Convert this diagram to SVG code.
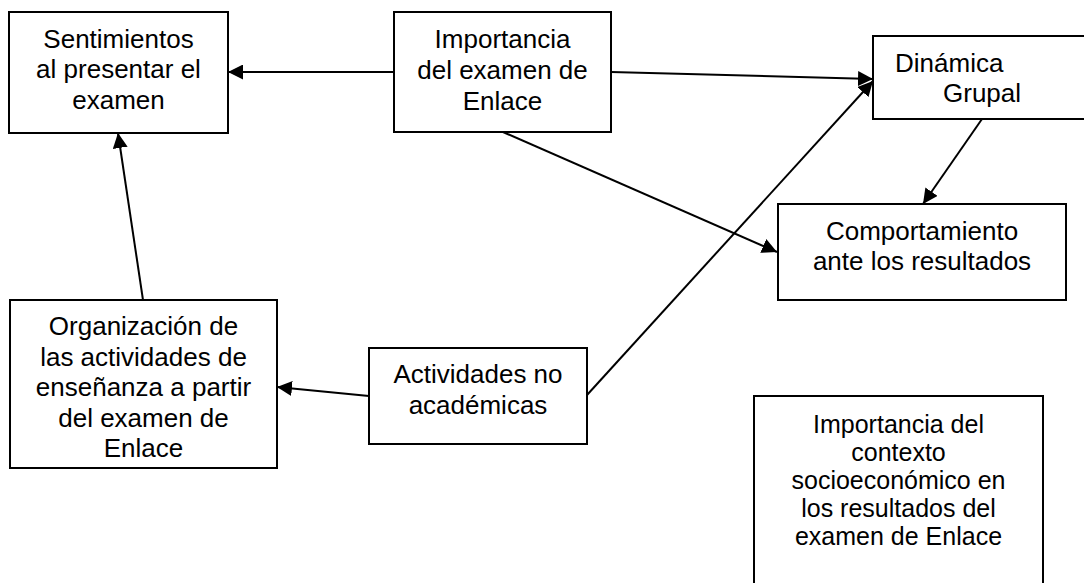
<svg xmlns="http://www.w3.org/2000/svg" width="1084" height="583" viewBox="0 0 1084 583">
<style>
.box{fill:#fff;stroke:#000;stroke-width:2}
.t{font-family:"Liberation Sans",Arial,sans-serif;font-size:26px;fill:#000;text-anchor:middle}
.s{text-anchor:start}
.t7{font-family:"Liberation Sans",Arial,sans-serif;font-size:25px;fill:#000;text-anchor:middle}
.l{fill:none;stroke:#000;stroke-width:2;marker-end:url(#ah)}
</style>
<defs>
<marker id="ah" markerUnits="userSpaceOnUse" markerWidth="16" markerHeight="15" refX="15" refY="7.5" orient="auto">
<path d="M0,0 L15,7.5 L0,15 z" fill="#000"/>
</marker>
</defs>
<rect width="1084" height="583" fill="#fff"/>
<g id="connectors">
<line class="l" x1="394" y1="72" x2="228" y2="72"/>
<line class="l" x1="611" y1="72" x2="873" y2="79"/>
<line class="l" x1="503" y1="132" x2="777" y2="252"/>
<line class="l" x1="982" y1="119" x2="923" y2="204"/>
<line class="l" x1="587" y1="395" x2="873" y2="81"/>
<line class="l" x1="143" y1="300" x2="118" y2="133"/>
<line class="l" x1="369" y1="396" x2="277" y2="387"/>
</g>
<g id="sentimientos">
<rect class="box" x="9" y="12" width="219" height="121"/>
<text class="t" x="118.5" y="48">Sentimientos</text>
<text class="t" x="118.5" y="78">al presentar el</text>
<text class="t" x="118.5" y="109">examen</text>
</g>
<g id="importancia">
<rect class="box" x="394" y="12" width="217" height="120"/>
<text class="t" x="502.5" y="48">Importancia</text>
<text class="t" x="502.5" y="79">del examen de</text>
<text class="t" x="502.5" y="110">Enlace</text>
</g>
<g id="dinamica">
<rect class="box" x="873" y="36" width="220" height="83"/>
<text class="t s" x="895" y="72">Dinámica</text>
<text class="t s" x="943" y="102">Grupal</text>
</g>
<g id="comportamiento">
<rect class="box" x="778" y="204" width="288" height="96"/>
<text class="t" x="922" y="240">Comportamiento</text>
<text class="t" x="922" y="270">ante los resultados</text>
</g>
<g id="organizacion">
<rect class="box" x="10" y="300" width="267" height="168"/>
<text class="t" x="143.5" y="335">Organización de</text>
<text class="t" x="143.5" y="366">las actividades de</text>
<text class="t" x="143.5" y="396">enseñanza a partir</text>
<text class="t" x="143.5" y="427">del examen de</text>
<text class="t" x="143.5" y="457">Enlace</text>
</g>
<g id="actividades">
<rect class="box" x="369" y="348" width="218" height="96"/>
<text class="t" x="478" y="383">Actividades no</text>
<text class="t" x="478" y="414">académicas</text>
</g>
<g id="contexto">
<rect class="box" x="754" y="396" width="289" height="200"/>
<text class="t7" x="898.5" y="433">Importancia del</text>
<text class="t7" x="898.5" y="461">contexto</text>
<text class="t7" x="898.5" y="489">socioeconómico en</text>
<text class="t7" x="898.5" y="517">los resultados del</text>
<text class="t7" x="898.5" y="545">examen de Enlace</text>
</g>
</svg>
